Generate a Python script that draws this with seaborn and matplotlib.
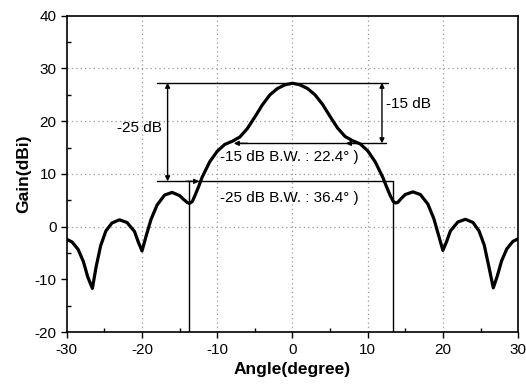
import seaborn as sns
import matplotlib.pyplot as plt
import pandas as pd
from matplotlib.ticker import MultipleLocator

# radiation pattern
angle = [-30, -29.3, -28.5, -27.8, -27.2, -26.6, -26.1, -25.5, -24.8, -24, -23, -22, -21,
         -20.5, -20, -19.4, -18.8, -18, -17, -16, -15, -14.5, -14, -13.7, -13.3, -13,
         -12.5, -12, -11, -10, -9, -8, -7, -6, -5, -4, -3, -2, -1, 0,
         1, 2, 3, 4, 5, 6, 7, 8, 9, 10, 11, 12, 12.5, 13, 13.4, 13.7, 14, 14.5,
         15, 16, 17, 18, 18.8, 19.4, 20, 20.5, 21, 22, 23, 24, 24.8, 25.5, 26.1,
         26.7, 27.2, 27.8, 28.5, 29.3, 30]
gain = [-2.4, -2.9, -4.3, -6.6, -9.6, -11.7, -7.6, -3.6, -0.8, 0.7, 1.3, 0.8, -0.9,
        -2.9, -4.6, -1.5, 1.4, 4.1, 6.0, 6.5, 5.9, 5.2, 4.6, 4.4, 4.8, 5.8,
        7.5, 9.4, 12.3, 14.3, 15.6, 16.2, 17.0, 18.6, 20.8, 23.1, 25.0, 26.2, 26.9, 27.2,
        26.9, 26.2, 25.0, 23.2, 20.9, 18.7, 17.1, 16.3, 15.7, 14.4, 12.3, 9.4, 7.6, 5.9, 4.8, 4.5, 4.6, 5.4,
        6.1, 6.6, 6.1, 4.3, 1.5, -1.5, -4.5, -2.8, -0.8, 0.9, 1.4, 0.8, -0.8, -3.5, -7.5,
        -11.6, -9.5, -6.5, -4.2, -2.8, -2.3]

peak = 27.3
level_15 = 15.8
level_25 = 8.6
bw_left, bw_right = -13.7, 13.4

df = pd.DataFrame({'angle': angle, 'gain': gain})

sns.set_style("ticks")
plt.rcParams['font.family'] = ['Liberation Sans', 'DejaVu Sans']
plt.rcParams['axes.unicode_minus'] = False
plt.rcParams['text.color'] = 'black'
plt.rcParams['axes.labelcolor'] = 'black'

fig, ax = plt.subplots(figsize=(5.26, 3.84), dpi=100)
fig.subplots_adjust(left=0.127, right=0.985, top=0.959, bottom=0.135)

sns.lineplot(data=df, x='angle', y='gain', ax=ax, color='black', linewidth=2.3,
             sort=False, zorder=5)

ax.set_xlim(-30, 30)
ax.set_ylim(-20, 40)
ax.xaxis.set_major_locator(MultipleLocator(10))
ax.xaxis.set_minor_locator(MultipleLocator(5))
ax.yaxis.set_major_locator(MultipleLocator(10))
ax.yaxis.set_minor_locator(MultipleLocator(5))
ax.tick_params(which='major', direction='out', length=4, width=1, labelsize=11,
               colors='black')
ax.tick_params(which='minor', direction='in', length=3, width=1, colors='black')
for s in ax.spines.values():
    s.set_visible(True)
    s.set_color('black')
    s.set_linewidth(1.2)

for v in [-20, -10, 0, 10, 20]:
    ax.axvline(v, color='#999999', linestyle=(0, (1, 2.5)), linewidth=0.9, zorder=1)
for v in [0, 10, 20, 30]:
    ax.axhline(v, color='#999999', linestyle=(0, (1, 2.5)), linewidth=0.9, zorder=1)

ax.set_xlabel('Angle(degree)', fontsize=12.5, fontweight='bold')
ax.set_ylabel('Gain(dBi)', fontsize=12.5, fontweight='bold', labelpad=2)

lw = 1.0
# reference lines
ax.plot([-18, 12.7], [peak, peak], color='black', linewidth=lw, zorder=4)
ax.plot([-18, 13.4], [level_25, level_25], color='black', linewidth=lw, zorder=4)
ax.plot([-7.6, 12.4], [level_15, level_15], color='black', linewidth=lw, zorder=4)
ax.plot([bw_left, bw_left], [-20, level_25], color='black', linewidth=lw, zorder=4)
ax.plot([bw_right, bw_right], [-20, level_25], color='black', linewidth=lw, zorder=4)

# double arrows
arrow = dict(color='black', lw=lw, mutation_scale=7, shrinkA=0, shrinkB=0)
ax.annotate('', xy=(-16.6, level_25), xytext=(-16.6, peak),
            arrowprops=dict(arrowstyle='<|-|>', **arrow))
ax.annotate('', xy=(11.9, level_15), xytext=(11.9, peak),
            arrowprops=dict(arrowstyle='<|-|>', **arrow))
ax.annotate('', xy=(-7.8, level_15), xytext=(-6.0, level_15),
            arrowprops=dict(arrowstyle='-|>', **arrow))
ax.annotate('', xy=(7.1, level_15), xytext=(8.6, level_15),
            arrowprops=dict(arrowstyle='-|>', **arrow))
ax.annotate('', xy=(-12.4, level_25), xytext=(-14.2, level_25),
            arrowprops=dict(arrowstyle='-|>', **arrow))

ax.text(-17.3, 18.7, '-25 dB', ha='right', va='center', fontsize=11)
ax.text(12.5, 23.2, '-15 dB', ha='left', va='center', fontsize=11)
ax.text(-9.6, 13.2, '-15 dB B.W. : 22.4° )', ha='left', va='center', fontsize=11)
ax.text(-9.6, 5.5, '-25 dB B.W. : 36.4° )', ha='left', va='center', fontsize=11)

plt.savefig('out.png', dpi=100)
